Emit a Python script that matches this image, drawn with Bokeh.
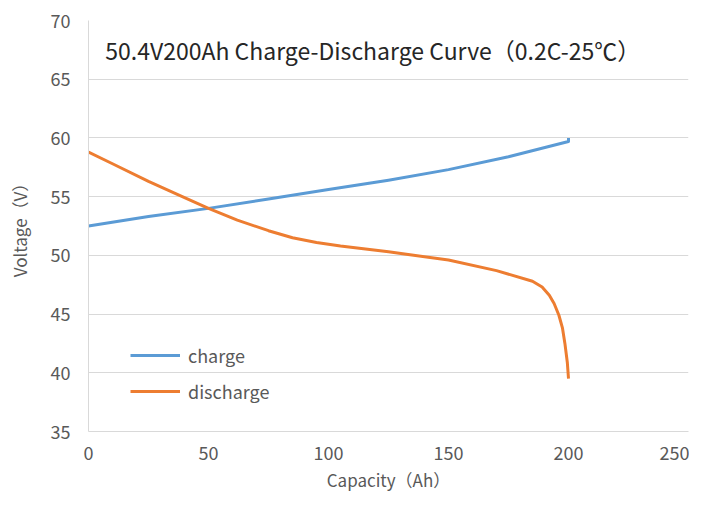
from bokeh.plotting import figure
from bokeh.models import Label, Range1d, SingleIntervalTicker, Legend, LegendItem
from bokeh.embed import file_html
from bokeh.resources import INLINE

charge_cap = [0, 25, 50, 75, 100, 125, 150, 175, 200, 200]
charge_v = [52.5, 53.3, 54.0, 54.8, 55.6, 56.4, 57.3, 58.4, 59.7, 60.0]

dis_cap = [0, 10, 25, 37, 50, 62, 75, 85, 95, 105, 125, 150, 170, 185, 189, 192, 194, 196, 197.5, 198.5, 199.5, 200]
dis_v = [58.8, 57.8, 56.3, 55.2, 54.0, 53.0, 52.1, 51.5, 51.1, 50.8, 50.3, 49.6, 48.7, 47.8, 47.3, 46.6, 45.9, 44.9, 43.8, 42.5, 40.9, 39.5]

title_text = "50.4V200Ah Charge-Discharge Curve（0.2C-25℃）"
x_title = "Capacity（Ah）"
y_title = "Voltage（V）"

FONT = "Noto Sans CJK SC"
GRAY = "#595959"

p = figure(width=689, height=495, output_backend="svg", toolbar_location=None,
           x_range=Range1d(0, 250), y_range=Range1d(35, 70),
           min_border_left=88, min_border_right=1, min_border_top=20, min_border_bottom=64)
p.outline_line_color = None
p.xgrid.grid_line_color = None
p.ygrid.grid_line_color = "#d9d9d9"
p.ygrid.grid_line_width = 1

p.xaxis.ticker = SingleIntervalTicker(interval=50)
p.yaxis.ticker = SingleIntervalTicker(interval=5)
for ax in (p.xaxis[0], p.yaxis[0]):
    ax.major_tick_line_color = None
    ax.minor_tick_line_color = None
    ax.axis_line_color = "#d9d9d9"
    ax.major_label_text_font = FONT
    ax.major_label_text_font_size = "18px"
    ax.major_label_text_color = GRAY
    ax.axis_label_text_font = FONT
    ax.axis_label_text_font_size = "17px"
    ax.axis_label_text_color = GRAY
    ax.axis_label_text_font_style = "normal"
p.xaxis.axis_label = x_title
p.yaxis.axis_label = y_title
p.xaxis.major_label_standoff = 8
p.xaxis.axis_label_standoff = 4
p.yaxis.major_label_standoff = 12
p.yaxis.axis_label_standoff = 16

r1 = p.line(charge_cap, charge_v, line_color="#5B9BD5", line_width=3, line_join="round")
r2 = p.line(dis_cap, dis_v, line_color="#ED7D31", line_width=3, line_join="round")

legend = Legend(items=[LegendItem(label="charge", renderers=[r1]),
                       LegendItem(label="discharge", renderers=[r2])],
                location=(42, 27))
legend.glyph_width = 50
legend.glyph_height = 20
legend.label_standoff = 8
legend.spacing = 10
legend.padding = 0
legend.margin = 0
legend.border_line_color = None
legend.background_fill_alpha = 0
legend.label_text_font = FONT
legend.label_text_font_size = "18px"
legend.label_text_color = GRAY
p.add_layout(legend)

t = Label(x=7, y=67.5, text=title_text, text_font=FONT, text_font_size="23px",
          text_color="#262626", text_baseline="middle",
          background_fill_color="white")
p.add_layout(t)

open("out.html", "w").write(file_html(p, INLINE))
